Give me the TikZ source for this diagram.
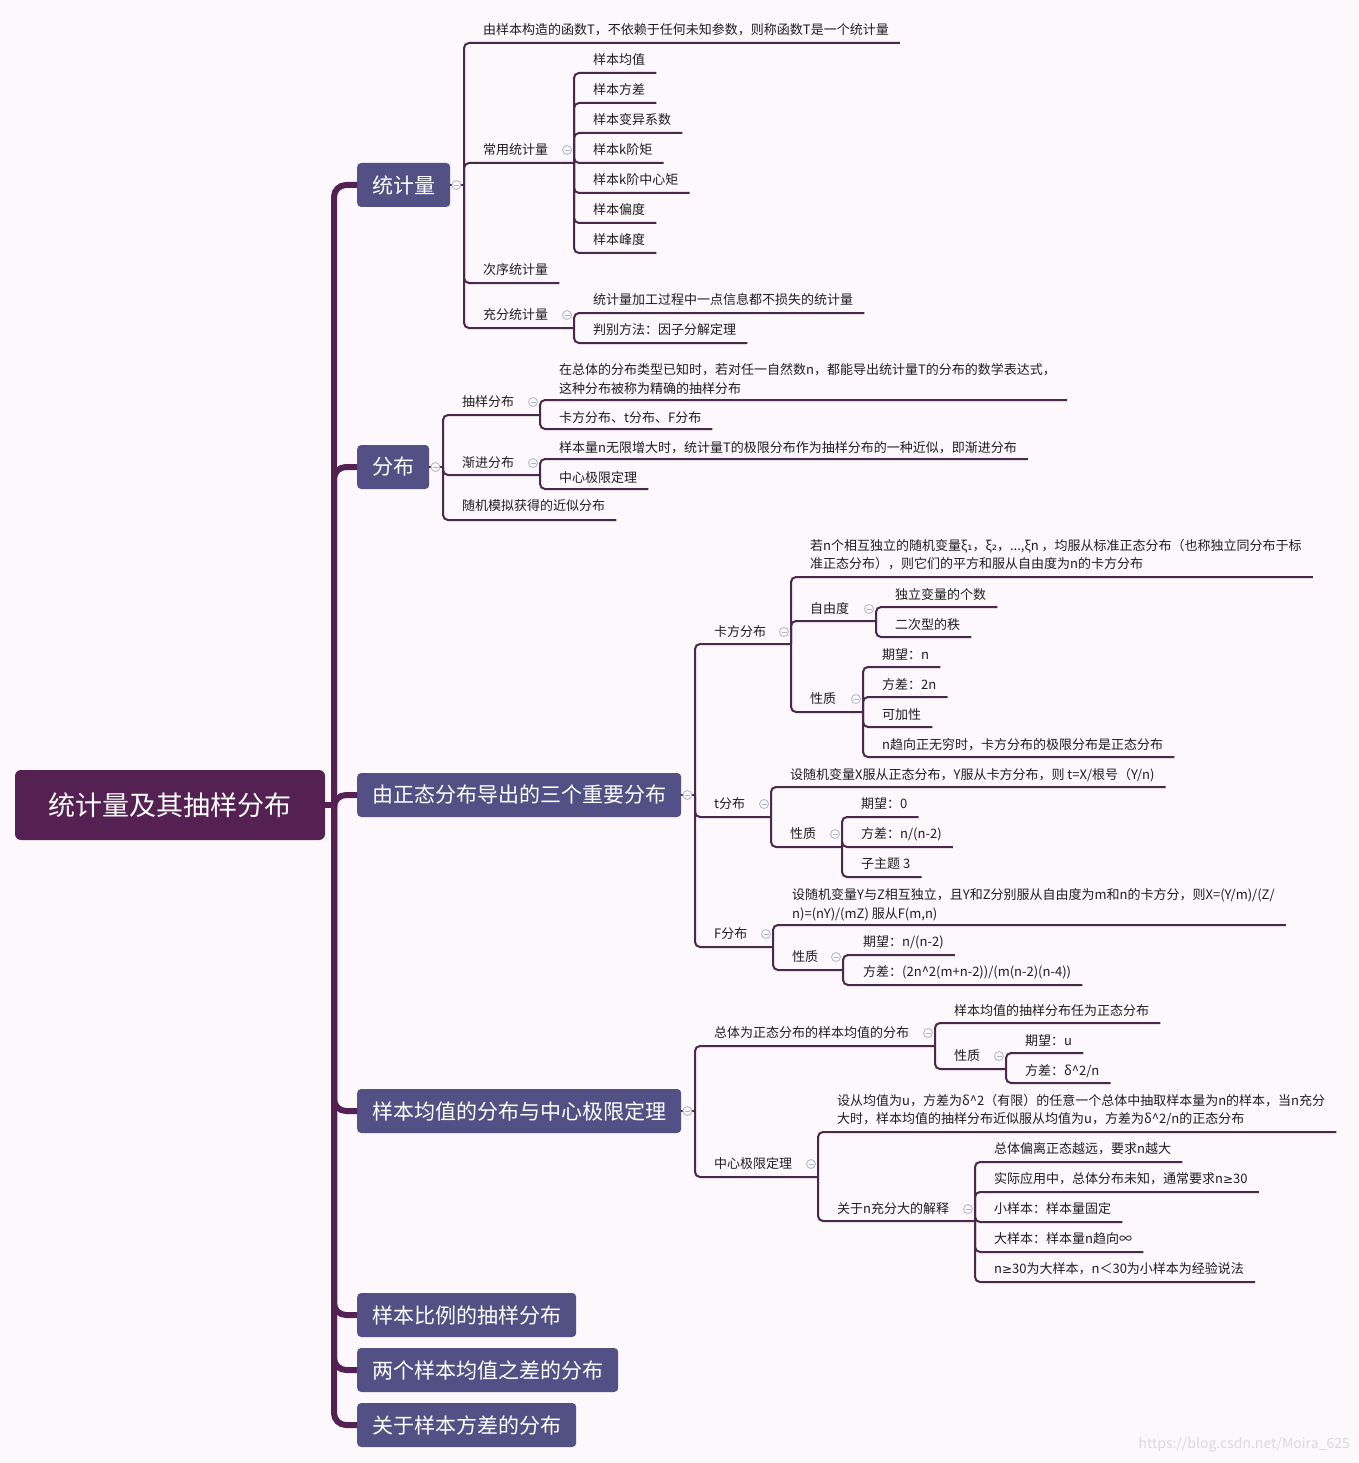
\documentclass[tikz,border=0pt]{standalone}
\usepackage{fontspec}
\setmainfont{Noto Sans CJK SC}
\newfontfamily\dvfont{DejaVu Sans}
\usetikzlibrary{calc}
\definecolor{bgc}{RGB}{252,248,252}
\definecolor{rootc}{RGB}{84,33,82}
\definecolor{topc}{RGB}{83,80,134}
\definecolor{linec}{RGB}{74,40,74}
\definecolor{iconc}{RGB}{170,182,205}
\definecolor{txtc}{RGB}{30,30,30}
\definecolor{wmc}{RGB}{218,218,218}
\tikzset{
  leaf/.style={anchor=west,inner sep=0pt,font=\fontsize{13}{18.5}\selectfont,text=txtc,align=left},
  topic/.style={anchor=west,fill=topc,text=white,rounded corners=4pt,inner xsep=15pt,inner ysep=0pt,minimum height=44pt,font=\fontsize{21}{24}\selectfont},
  rootbox/.style={fill=rootc,text=white,rounded corners=6pt,minimum width=310pt,minimum height=70pt,font=\fontsize{27}{30}\selectfont},
  sub/.style={draw=linec,line width=2pt,rounded corners=5pt},
  subone/.style={draw=linec,line width=2.5pt,rounded corners=5pt},
  trunk/.style={draw=rootc,line width=6pt,rounded corners=12pt},
  iconst/.style={draw=iconc,line width=0.8pt}
}
\newcommand{\mmgeq}{{\dvfont\fontsize{12}{14}\selectfont ≥}}
\newcommand{\mmicon}[1]{\draw[iconst,fill=bgc] #1 circle (4.5); \draw[iconst] #1 ++(-2.5,0) -- ++(5,0);}
% leaf: name, parent coord, tx, ty, uy, text
\newcommand{\mmleaf}[6]{%
  \node[leaf] (#1) at (#3,#4) {#6};
  \coordinate (#1-e) at (#1.east |- 0,#5);
  \draw[sub] #2 |- ($(#1-e)+(11,0)$);
}
% mid: name, parent coord, tx, ty, uy, endx, text
\newcommand{\mmmid}[7]{%
  \node[leaf] (#1) at (#3,#4) {#7};
  \coordinate (#1-j) at (#6,#5);
  \draw[sub] #2 |- (#1-j);
  \mmicon{($(#1-j |- #1.east)+(-7,0)$)}
}
\begin{document}
\begin{tikzpicture}[x=1pt,y=-1pt]
\fill[bgc] (0,0) rectangle (1358,1463);
\useasboundingbox (0,0) rectangle (1358,1463);

% root and level-1 topics
\node[rootbox] (root) at (170,805) {统计量及其抽样分布};
\node[topic] (b1) at (357,185) {统计量};
\node[topic] (b2) at (357,467) {分布};
\node[topic] (b3) at (357,795) {由正态分布导出的三个重要分布};
\node[topic] (b4) at (357,1111) {样本均值的分布与中心极限定理};
\node[topic] (b5) at (357,1315) {样本比例的抽样分布};
\node[topic] (b6) at (357,1370) {两个样本均值之差的分布};
\node[topic] (b7) at (357,1425) {关于样本方差的分布};

\coordinate (rj) at (334,805);
\draw[trunk] (root.east) -- (rj);
\foreach \b in {b1,b2,b3,b4,b5,b6,b7} { \draw[trunk] (rj) |- (\b.west); }

% junctions of level-1 topics
\coordinate (b1-j) at (464,185);
\coordinate (b2-j) at (443,467);
\coordinate (b3-j) at (695,795);
\coordinate (b4-j) at (695,1111);
\foreach \b in {b1,b2,b3,b4} { \draw[subone] (\b.east) -- (\b-j); }

% ---------- branch 1 ----------
\mmleaf{a1}{(b1-j)}{483}{30}{43}{由样本构造的函数T，不依赖于任何未知参数，则称函数T是一个统计量}
\mmmid{a2}{(b1-j)}{483}{150}{163}{574}{常用统计量}
\mmleaf{a21}{(a2-j)}{593}{60}{73}{样本均值}
\mmleaf{a22}{(a2-j)}{593}{90}{103}{样本方差}
\mmleaf{a23}{(a2-j)}{593}{120}{133}{样本变异系数}
\mmleaf{a24}{(a2-j)}{593}{150}{163}{样本k阶矩}
\mmleaf{a25}{(a2-j)}{593}{180}{193}{样本k阶中心矩}
\mmleaf{a26}{(a2-j)}{593}{210}{223}{样本偏度}
\mmleaf{a27}{(a2-j)}{593}{240}{253}{样本峰度}
\mmleaf{a3}{(b1-j)}{483}{270}{283}{次序统计量}
\mmmid{a4}{(b1-j)}{483}{315}{328}{574}{充分统计量}
\mmleaf{a41}{(a4-j)}{593}{300}{313}{统计量加工过程中一点信息都不损失的统计量}
\mmleaf{a42}{(a4-j)}{593}{330}{343}{判别方法：因子分解定理}

% ---------- branch 2 ----------
\mmmid{c1}{(b2-j)}{462}{402}{415}{540}{抽样分布}
\mmleaf{c11}{(c1-j)}{559}{379}{400}{在总体的分布类型已知时，若对任一自然数n，都能导出统计量T的分布的数学表达式，\\这种分布被称为精确的抽样分布}
\mmleaf{c12}{(c1-j)}{559}{418}{429}{卡方分布、t分布、F分布}
\mmmid{c2}{(b2-j)}{462}{463}{475}{540}{渐进分布}
\mmleaf{c21}{(c2-j)}{559}{448}{459}{样本量n无限增大时，统计量T的极限分布作为抽样分布的一种近似，即渐进分布}
\mmleaf{c22}{(c2-j)}{559}{478}{489}{中心极限定理}
\mmleaf{c3}{(b2-j)}{462}{506}{520}{随机模拟获得的近似分布}

% ---------- branch 3 ----------
\mmmid{d1}{(b3-j)}{714}{632}{644}{791}{卡方分布}
\mmleaf{d11}{(d1-j)}{810}{554.5}{577}{若n个相互独立的随机变量ξ{\dvfont ₁}，ξ{\dvfont ₂}，...,ξn ，均服从标准正态分布（也称独立同分布于标\\准正态分布），则它们的平方和服从自由度为n的卡方分布}
\mmmid{d12}{(d1-j)}{810}{609}{621}{876}{自由度}
\mmleaf{d121}{(d12-j)}{895}{595}{607}{独立变量的个数}
\mmleaf{d122}{(d12-j)}{895}{625}{637}{二次型的秩}
\mmmid{d13}{(d1-j)}{810}{699}{712}{863}{性质}
\mmleaf{d131}{(d13-j)}{882}{655}{667}{期望：n}
\mmleaf{d132}{(d13-j)}{882}{685}{697}{方差：2n}
\mmleaf{d133}{(d13-j)}{882}{715}{727}{可加性}
\mmleaf{d134}{(d13-j)}{882}{745}{757}{n趋向正无穷时，卡方分布的极限分布是正态分布}

\mmmid{d2}{(b3-j)}{714}{804}{817}{771}{t分布}
\mmleaf{d21}{(d2-j)}{790}{775}{787}{设随机变量X服从正态分布，Y服从卡方分布，则 t=X/根号（Y/n)}
\mmmid{d22}{(d2-j)}{790}{834}{847}{842}{性质}
\mmleaf{d221}{(d22-j)}{861}{804}{817}{期望：0}
\mmleaf{d222}{(d22-j)}{861}{834}{847}{方差：n/(n-2)}
\mmleaf{d223}{(d22-j)}{861}{864}{877}{子主题 3}

\mmmid{d3}{(b3-j)}{714}{934}{947}{773}{F分布}
\mmleaf{d31}{(d3-j)}{792}{904.5}{925}{设随机变量Y与Z相互独立，且Y和Z分别服从自由度为m和n的卡方分，则X=(Y/m)/(Z/\\n)=(nY)/(mZ) 服从F(m,n)}
\mmmid{d32}{(d3-j)}{792}{957}{970}{843}{性质}
\mmleaf{d321}{(d32-j)}{863}{942}{955}{期望：n/(n-2)}
\mmleaf{d322}{(d32-j)}{863}{972}{985}{方差：(2n\textasciicircum 2(m+n-2))/(m(n-2)(n-4))}

% ---------- branch 4 ----------
\mmmid{e1}{(b4-j)}{714}{1033}{1046}{935}{总体为正态分布的样本均值的分布}
\mmleaf{e11}{(e1-j)}{954}{1011}{1023}{样本均值的抽样分布任为正态分布}
\mmmid{e12}{(e1-j)}{954}{1056}{1069}{1006}{性质}
\mmleaf{e121}{(e12-j)}{1025}{1041}{1053}{期望：u}
\mmleaf{e122}{(e12-j)}{1025}{1071}{1083}{方差：δ\textasciicircum 2/n}
\mmmid{e2}{(b4-j)}{714}{1164}{1177}{818}{中心极限定理}
\mmleaf{e21}{(e2-j)}{837}{1110}{1132}{设从均值为u，方差为δ\textasciicircum 2（有限）的任意一个总体中抽取样本量为n的样本，当n充分\\大时，样本均值的抽样分布近似服从均值为u，方差为δ\textasciicircum 2/n的正态分布}
\mmmid{e22}{(e2-j)}{837}{1209}{1221}{975}{关于n充分大的解释}
\mmleaf{e221}{(e22-j)}{994}{1149}{1162}{总体偏离正态越远，要求n越大}
\mmleaf{e222}{(e22-j)}{994}{1179}{1192}{实际应用中，总体分布未知，通常要求n\mmgeq 30}
\mmleaf{e223}{(e22-j)}{994}{1209}{1222}{小样本：样本量固定}
\mmleaf{e224}{(e22-j)}{994}{1239}{1252}{大样本：样本量n趋向∞}
\mmleaf{e225}{(e22-j)}{994}{1269}{1282}{n\mmgeq 30为大样本，n＜30为小样本为经验说法}

% collapse icons of level-1 topics
\foreach \b in {b1,b2,b3,b4} { \mmicon{($(\b.east)+(6,0)$)} }

% watermark
\node[anchor=east,inner sep=0pt,text=wmc,font=\fontsize{14}{16}\selectfont] (wm) at (1350,1445) {https://blog.csdn.net/Moira\_625};
\end{tikzpicture}
\end{document}
